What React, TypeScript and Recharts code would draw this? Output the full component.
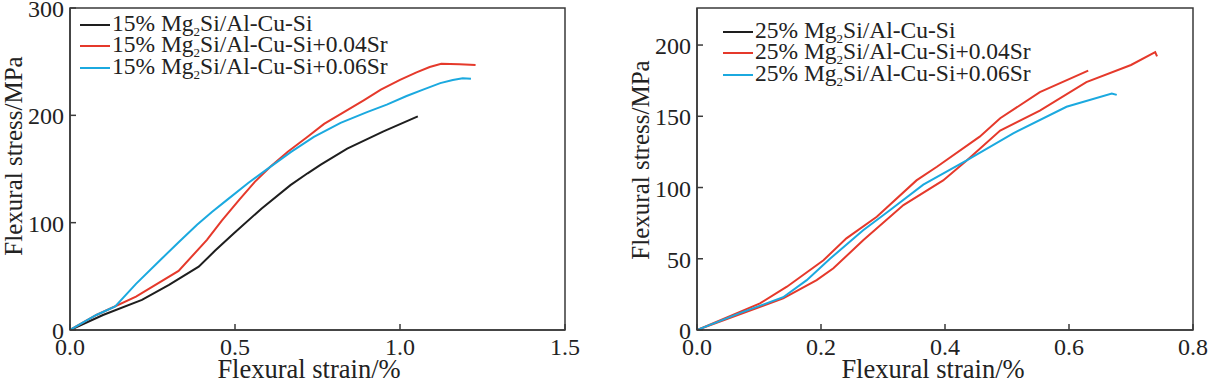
import React from "react";
import { LineChart, Line, XAxis, YAxis, ReferenceArea, Label } from "recharts";

// ---------- Data: left chart (15% Mg2Si) ----------
const base15Strain = [0, 0.1, 0.218, 0.3, 0.39, 0.44, 0.496, 0.58, 0.668, 0.72, 0.76, 0.84, 0.95, 1.054];
const base15Stress = [0, 14, 28, 42, 59, 74, 90, 113, 135, 146, 154, 169, 185, 199];

const sr04_15Strain = [0, 0.08, 0.2, 0.329, 0.415, 0.46, 0.512, 0.56, 0.607, 0.66, 0.72, 0.77, 0.83, 0.89, 0.942, 1.0, 1.05, 1.09, 1.125, 1.18, 1.229];
const sr04_15Stress = [0, 14, 31, 55, 84, 102, 121, 138, 152, 166, 180, 192, 203, 214, 224, 233, 240, 245, 248, 247.5, 247];

const sr06_15Strain = [0, 0.08, 0.137, 0.2, 0.273, 0.33, 0.385, 0.43, 0.475, 0.54, 0.607, 0.67, 0.739, 0.82, 0.9, 0.96, 1.02, 1.07, 1.122, 1.16, 1.19, 1.215];
const sr06_15Stress = [0, 14, 22, 43, 65, 82, 98, 110, 121, 137, 152, 166, 180, 193, 203, 210, 218, 224, 230, 233, 234.5, 234];

// ---------- Data: right chart (25% Mg2Si) ----------
const base25Strain = [0, 0.1016, 0.145, 0.204, 0.241, 0.29, 0.354, 0.387, 0.456, 0.489, 0.553, 0.631];
const base25Stress = [0, 18.7, 30.4, 49, 64.3, 79.5, 105, 114.6, 135.7, 148.6, 167, 182];

const sr04_25Strain = [0, 0.139, 0.193, 0.22, 0.268, 0.333, 0.397, 0.435, 0.489, 0.553, 0.628, 0.7, 0.739, 0.742];
const sr04_25Stress = [0, 22.2, 35, 43.3, 63, 87.7, 105, 119, 140, 154, 174, 186, 195, 192];

const sr06_25Strain = [0, 0.07, 0.139, 0.177, 0.2145, 0.268, 0.311, 0.365, 0.435, 0.51, 0.596, 0.669, 0.677];
const sr06_25Stress = [0, 12, 23, 35, 50, 70, 84, 102, 119, 138, 156.7, 166, 165];

const leftXTicks = [0, 0.5, 1.0, 1.5];
const leftYTicks = [0, 100, 200, 300];
const rightXTicks = [0, 0.2, 0.4, 0.6, 0.8];
const rightYTicks = [0, 50, 100, 150, 200];

const xTitle = "Flexural strain/%";
const yTitle = "Flexural stress/MPa";

const legend15 = ["15%", "15%", "15%"];
const legend25 = ["25%", "25%", "25%"];
const legendSuffixes = ["", "+0.04Sr", "+0.06Sr"];

const BLACK = "#1e1e1e";
const RED = "#e5392b";
const CYAN = "#1ba9df";
const AXIS = "#3a3a3a";
const FONT = "'Liberation Serif', 'Times New Roman', serif";

const zip = (xs: number[], ys: number[]) => xs.map((x, i) => ({ x, y: ys[i] }));

const XTick = (props: any) => {
  const { x, y, payload, fmt } = props;
  return (
    <g>
      <line x1={x} x2={x} y1={y} y2={y - 6} stroke={AXIS} strokeWidth={1.5} />
      <text x={x} y={y + 25} textAnchor="middle" fontFamily={FONT} fontSize={24} fill="#222">
        {fmt(payload.value)}
      </text>
    </g>
  );
};

const YTick = (props: any) => {
  const { x, y, payload } = props;
  return (
    <g>
      <line x1={x} x2={x + 6} y1={y} y2={y} stroke={AXIS} strokeWidth={1.5} />
      <text x={x - 6} y={y + 9} textAnchor="end" fontFamily={FONT} fontSize={24} fill="#222">
        {payload.value}
      </text>
    </g>
  );
};

const LegendBox = ({ prefixes, colors, left, top }: { prefixes: string[]; colors: string[]; left: number; top: number }) => (
  <div style={{ position: "absolute", left, top, fontFamily: FONT, fontSize: 23.5, color: "#222", lineHeight: "21.5px" }}>
    {prefixes.map((p, i) => (
      <div key={i} style={{ display: "flex", alignItems: "center", height: 21.5, whiteSpace: "nowrap" }}>
        <span style={{ display: "inline-block", width: 30, height: 2, background: colors[i], marginRight: 2 }} />
        <span>
          {p} Mg
          <span style={{ fontSize: 13, position: "relative", top: 5 }}>2</span>
          Si/Al-Cu-Si{legendSuffixes[i]}
        </span>
      </div>
    ))}
  </div>
);

const YTitle = (cx: number, cy: number) => () => (
  <text
    x={cx}
    y={cy}
    transform={`rotate(-90 ${cx} ${cy})`}
    textAnchor="middle"
    dominantBaseline="central"
    fontFamily={FONT}
    fontSize={25}
    fill="#222"
  >
    {yTitle}
  </text>
);

const XTitle = (cx: number, by: number) => () => (
  <text x={cx} y={by} textAnchor="middle" fontFamily={FONT} fontSize={26.5} fill="#222">
    {xTitle}
  </text>
);

const fmt1 = (v: number) => v.toFixed(1);

export default function App() {
  return (
    <div style={{ position: "relative", width: 1209, height: 383, background: "#fff", overflow: "hidden" }}>
      <style>{"body{margin:0;background:#fff}"}</style>
      <div style={{ position: "absolute", left: 0, top: 0 }}>
        <LineChart width={600} height={383} margin={{ top: 8, right: 35, bottom: 52, left: 69 }}>
          <XAxis
            dataKey="x"
            type="number"
            domain={[0, 1.5]}
            ticks={leftXTicks}
            interval={0}
            height={1}
            tickSize={0}
            tickMargin={0}
            tick={<XTick fmt={fmt1} />}
            axisLine={{ stroke: AXIS, strokeWidth: 1.5 }}
            allowDataOverflow
          >
            <Label content={XTitle(309, 378)} />
          </XAxis>
          <YAxis
            type="number"
            domain={[0, 300]}
            ticks={leftYTicks}
            interval={0}
            width={1}
            tickSize={0}
            tickMargin={0}
            tick={<YTick />}
            axisLine={{ stroke: AXIS, strokeWidth: 1.5 }}
          >
            <Label content={YTitle(13, 156)} />
          </YAxis>
          <ReferenceArea x1={0} x2={1.5} y1={0} y2={300} fill="none" stroke={AXIS} strokeWidth={1.5} ifOverflow="visible" />
          <Line data={zip(base15Strain, base15Stress)} dataKey="y" stroke={BLACK} strokeWidth={2} dot={false} isAnimationActive={false} type="linear" />
          <Line data={zip(sr04_15Strain, sr04_15Stress)} dataKey="y" stroke={RED} strokeWidth={2} dot={false} isAnimationActive={false} type="linear" />
          <Line data={zip(sr06_15Strain, sr06_15Stress)} dataKey="y" stroke={CYAN} strokeWidth={2} dot={false} isAnimationActive={false} type="linear" />
        </LineChart>
        <LegendBox prefixes={legend15} colors={[BLACK, RED, CYAN]} left={80} top={14} />
      </div>
      <div style={{ position: "absolute", left: 609, top: 0 }}>
        <LineChart width={600} height={383} margin={{ top: 8, right: 16, bottom: 52, left: 87 }}>
          <XAxis
            dataKey="x"
            type="number"
            domain={[0, 0.8]}
            ticks={rightXTicks}
            interval={0}
            height={1}
            tickSize={0}
            tickMargin={0}
            tick={<XTick fmt={fmt1} />}
            axisLine={{ stroke: AXIS, strokeWidth: 1.5 }}
            allowDataOverflow
          >
            <Label content={XTitle(324, 378)} />
          </XAxis>
          <YAxis
            type="number"
            domain={[0, 226]}
            ticks={rightYTicks}
            interval={0}
            width={1}
            tickSize={0}
            tickMargin={0}
            tick={<YTick />}
            axisLine={{ stroke: AXIS, strokeWidth: 1.5 }}
            allowDataOverflow
          >
            <Label content={YTitle(31, 160)} />
          </YAxis>
          <ReferenceArea x1={0} x2={0.8} y1={0} y2={226} fill="none" stroke={AXIS} strokeWidth={1.5} ifOverflow="visible" />
          <Line data={zip(base25Strain, base25Stress)} dataKey="y" stroke={RED} strokeWidth={2} dot={false} isAnimationActive={false} type="linear" />
          <Line data={zip(sr04_25Strain, sr04_25Stress)} dataKey="y" stroke={RED} strokeWidth={2} dot={false} isAnimationActive={false} type="linear" />
          <Line data={zip(sr06_25Strain, sr06_25Stress)} dataKey="y" stroke={CYAN} strokeWidth={2} dot={false} isAnimationActive={false} type="linear" />
        </LineChart>
        <LegendBox prefixes={legend25} colors={[BLACK, RED, CYAN]} left={114} top={21} />
      </div>
    </div>
  );
}
